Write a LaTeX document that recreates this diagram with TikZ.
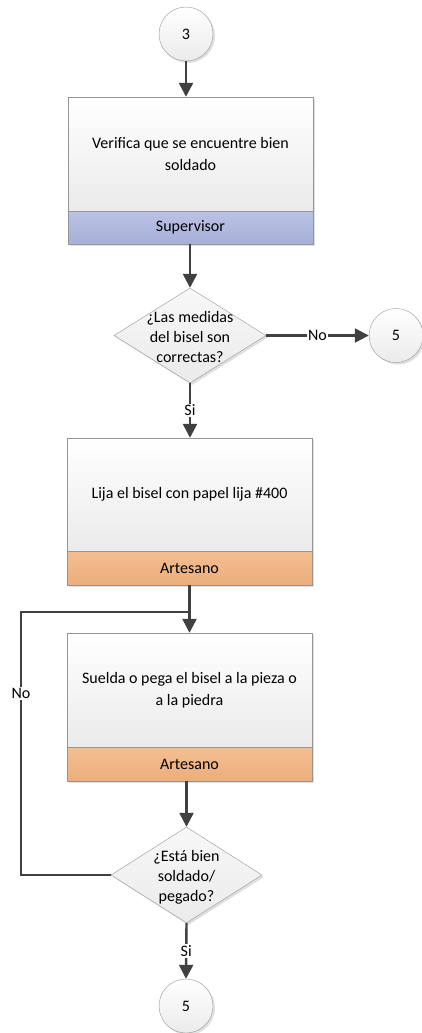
\documentclass[tikz,border=0pt]{standalone}
\usepackage{fontspec}
\setmainfont{Carlito}
\usetikzlibrary{shapes.geometric,arrows.meta,shadows}
\definecolor{arrowgray}{RGB}{64,64,64}
\definecolor{bordergray}{RGB}{150,150,150}
\definecolor{supA}{RGB}{186,194,228}
\definecolor{supB}{RGB}{166,176,216}
\definecolor{artA}{RGB}{244,190,146}
\definecolor{artB}{RGB}{236,174,124}
\begin{document}
\begin{tikzpicture}[x=1pt,y=-1pt,
  every node/.style={font=\fontsize{16}{21.5}\selectfont},
  shad/.style={drop shadow={opacity=0.25,shadow xshift=2pt,shadow yshift=-2pt}},
  conn/.style={circle,draw=bordergray,top color=white,bottom color=black!8,minimum size=54pt,inner sep=0pt,shad},
  taskbox/.style={rectangle,draw=bordergray,top color=white,bottom color=black!8,minimum width=245pt,minimum height=114pt,inner sep=0pt,text width=236pt,align=flush center,shad},
  supl/.style={rectangle,draw=bordergray,top color=supA,bottom color=supB,minimum width=245pt,minimum height=33pt,inner sep=0pt,shad},
  artl/.style={rectangle,draw=bordergray,top color=artA,bottom color=artB,minimum width=245pt,minimum height=34pt,inner sep=0pt,shad},
  decision/.style={diamond,draw=bordergray,top color=black!3,bottom color=black!8,inner sep=0pt,shad},
  dtext/.style={align=center,inner sep=0pt,font=\fontsize{16}{20}\selectfont},
  flow/.style={draw=arrowgray,line width=2.4pt,-{Triangle[length=14pt,width=14pt]}},
  plain/.style={draw=arrowgray,line width=2.4pt},
  lbl/.style={fill=white,inner sep=1pt}
]
\useasboundingbox (0,0) rectangle (421,1033);

% nodes
\node[conn] (c3) at (186,34) {3};
\node[taskbox] (b1) at (190.5,154) {Verifica que se encuentre bien\\soldado};
\node[supl] (l1) at (190.5,227.5) {Supervisor};
\node[decision,minimum width=152pt,minimum height=95pt] (d1) at (190,335.5) {};
\node[dtext] (t1) at (190,337) {¿Las medidas\\del bisel son\\correctas?};
\node[conn] (c5a) at (396,335.5) {5};
\node[taskbox,minimum height=113pt] (b2) at (189.5,494.5) {Lija el bisel con papel lija \#400};
\node[artl] (l2) at (189.5,568) {Artesano};
\node[taskbox] (b3) at (189.5,690) {Suelda o pega el bisel a la pieza o\\a la piedra};
\node[artl] (l3) at (189.5,764) {Artesano};
\node[decision,minimum width=151pt,minimum height=96pt] (d2) at (186.5,875) {};
\node[dtext] (t2) at (186.5,877) {¿Está bien\\soldado/\\pegado?};
\node[conn] (c5b) at (186,1006) {5};
\coordinate (lp) at (21,612);

% connectors
\draw[flow] (c3.south) -- (c3.south |- b1.north);
\draw[flow] (l1.south -| d1.north) -- (d1.north);
\draw[flow] (d1.east) -- node[lbl]{No} (c5a.west);
\draw[flow] (d1.south) -- node[lbl]{Si} (d1.south |- b2.north);
\draw[flow] (l2.south) -- (b3.north);
\draw[plain] (d2.west) -- (d2.west -| lp) -- node[lbl,pos=0.69]{No} (lp) -- (lp -| l2.south);
\draw[flow] (d2.north |- l3.south) -- (d2.north);
\draw[flow] (d2.south) -- node[lbl]{Si} (c5b.north);
\end{tikzpicture}
\end{document}
